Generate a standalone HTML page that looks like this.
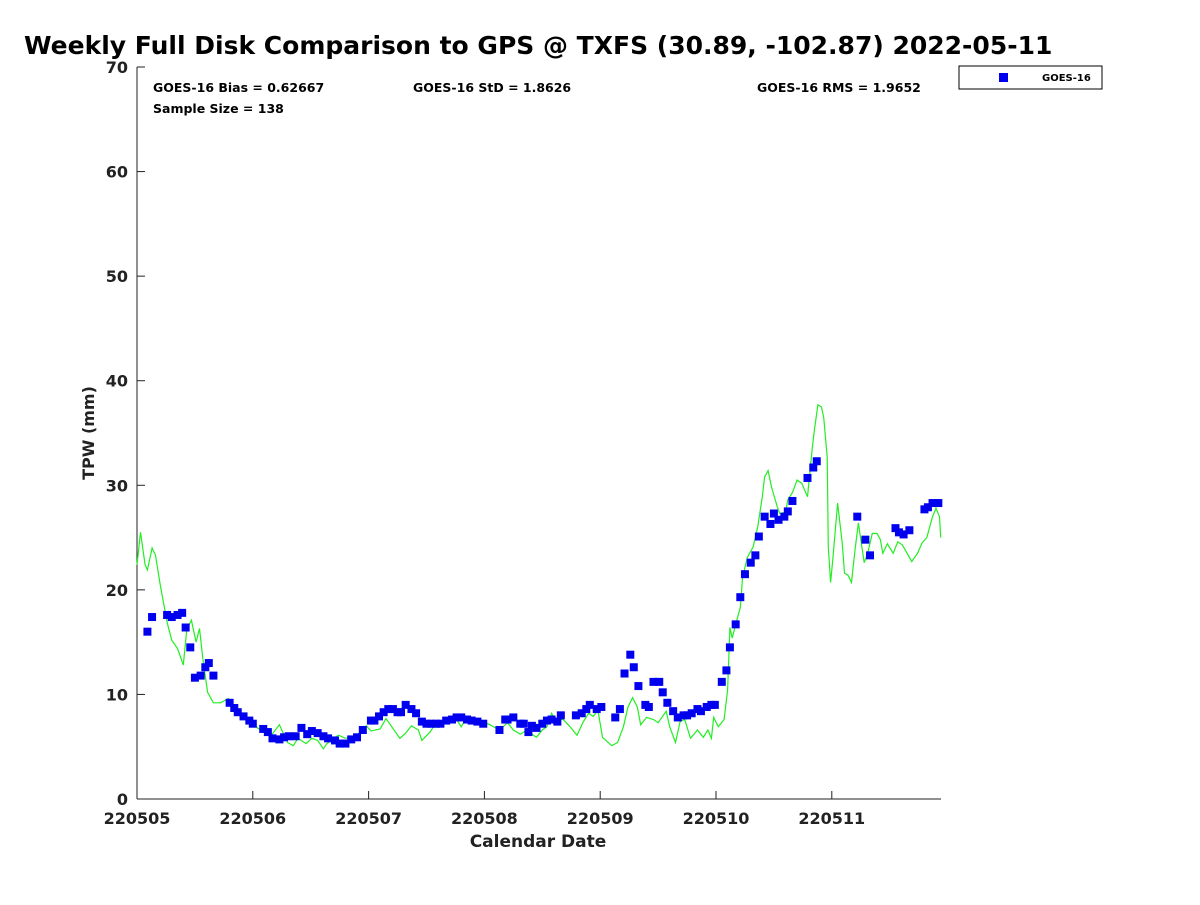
<!DOCTYPE html>
<html><head><meta charset="utf-8"><style>
body{margin:0;background:#fff;font-family:"Liberation Sans","DejaVu Sans",sans-serif;}
svg text{font-family:"DejaVu Sans","Liberation Sans",sans-serif;font-weight:bold;}
</style></head><body>
<svg id="chart" width="1200" height="900" viewBox="0 0 1200 900">
<text x="24" y="54" font-size="25" fill="#000">Weekly Full Disk Comparison to GPS @ TXFS (30.89, -102.87) 2022-05-11</text>
<g id="axes"></g>
<g id="series"></g>
<text x="153" y="92" font-size="12.5">GOES-16 Bias = 0.62667</text>
<text x="153" y="113" font-size="12.5">Sample Size = 138</text>
<text x="413" y="92" font-size="12.5">GOES-16 StD = 1.8626</text>
<text x="757" y="92" font-size="12.5">GOES-16 RMS = 1.9652</text>
<g>
<rect x="959" y="66" width="143" height="23" fill="#fff" stroke="#000" stroke-width="1"/>
<rect x="999" y="73" width="9" height="9" fill="#0000ee"/>
<text x="1042" y="81" font-size="10">GOES-16</text>
</g>
<text x="538" y="847" font-size="17" text-anchor="middle" fill="#222">Calendar Date</text>
<text transform="translate(94,433) rotate(-90)" font-size="16" text-anchor="middle" fill="#222">TPW (mm)</text>
</svg>
<script>
const xTickLabels=["220505","220506","220507","220508","220509","220510","220511"];
const yTicks=[0,10,20,30,40,50,60,70];
const goesDays=[0.09,0.13,0.26,0.30,0.35,0.39,0.42,0.46,0.50,0.55,0.59,0.62,0.66,0.80,0.84,0.87,0.92,0.97,1.00,1.09,1.13,1.17,1.23,1.27,1.31,1.37,1.42,1.47,1.51,1.56,1.61,1.65,1.71,1.75,1.80,1.85,1.90,1.95,2.02,2.05,2.09,2.13,2.17,2.21,2.25,2.28,2.32,2.37,2.41,2.46,2.50,2.54,2.58,2.62,2.67,2.72,2.76,2.80,2.85,2.89,2.94,2.99,3.13,3.18,3.20,3.25,3.31,3.34,3.38,3.41,3.45,3.50,3.54,3.58,3.63,3.66,3.79,3.84,3.88,3.91,3.97,4.01,4.13,4.17,4.21,4.26,4.29,4.33,4.39,4.42,4.46,4.51,4.54,4.58,4.63,4.67,4.72,4.75,4.79,4.84,4.87,4.92,4.96,4.99,5.05,5.09,5.12,5.17,5.21,5.25,5.30,5.34,5.37,5.42,5.47,5.50,5.54,5.59,5.62,5.66,5.79,5.84,5.87,6.22,6.29,6.33,6.55,6.58,6.62,6.67,6.80,6.83,6.87,6.92];
const goesVals=[16.0,17.4,17.6,17.4,17.6,17.8,16.4,14.5,11.6,11.8,12.6,13.0,11.8,9.2,8.7,8.3,7.9,7.5,7.2,6.7,6.4,5.8,5.7,5.9,6.0,6.0,6.8,6.2,6.5,6.3,6.0,5.8,5.6,5.3,5.3,5.7,5.9,6.6,7.5,7.5,7.9,8.3,8.6,8.6,8.3,8.3,9.0,8.6,8.2,7.4,7.2,7.2,7.2,7.2,7.5,7.6,7.8,7.8,7.6,7.5,7.4,7.2,6.6,7.6,7.6,7.8,7.2,7.2,6.4,7.0,6.8,7.2,7.5,7.6,7.4,8.0,8.0,8.2,8.6,9.0,8.6,8.8,7.8,8.6,12.0,13.8,12.6,10.8,9.0,8.8,11.2,11.2,10.2,9.2,8.4,7.8,8.0,8.0,8.2,8.6,8.4,8.8,9.0,9.0,11.2,12.3,14.5,16.7,19.3,21.5,22.6,23.3,25.1,27.0,26.3,27.3,26.7,27.0,27.5,28.5,30.7,31.7,32.3,27.0,24.8,23.3,25.9,25.5,25.3,25.7,27.7,27.9,28.3,28.3];
const gpsDays=[0,0.03,0.07,0.09,0.13,0.16,0.20,0.26,0.30,0.35,0.40,0.43,0.47,0.51,0.54,0.57,0.61,0.66,0.72,0.79,0.85,0.91,0.98,1.04,1.11,1.16,1.23,1.30,1.35,1.39,1.46,1.51,1.56,1.61,1.64,1.68,1.74,1.80,1.86,1.93,1.98,2.02,2.10,2.15,2.20,2.27,2.32,2.37,2.43,2.46,2.53,2.59,2.65,2.70,2.75,2.80,2.84,2.91,2.98,3.03,3.13,3.20,3.25,3.31,3.37,3.41,3.45,3.50,3.54,3.58,3.61,3.68,3.74,3.80,3.85,3.90,3.94,3.98,4.02,4.10,4.15,4.20,4.24,4.28,4.32,4.35,4.40,4.46,4.50,4.57,4.60,4.65,4.69,4.73,4.78,4.84,4.89,4.93,4.96,4.98,5.02,5.07,5.10,5.12,5.14,5.18,5.21,5.23,5.27,5.32,5.36,5.40,5.42,5.45,5.48,5.53,5.55,5.60,5.62,5.66,5.70,5.74,5.79,5.83,5.85,5.88,5.91,5.93,5.96,5.97,5.99,6.01,6.05,6.09,6.11,6.14,6.17,6.20,6.23,6.28,6.31,6.35,6.39,6.42,6.44,6.48,6.53,6.57,6.61,6.65,6.69,6.74,6.78,6.82,6.87,6.90,6.93,6.94];
const gpsVals=[22.4,25.5,22.4,21.9,24.0,23.3,20.5,16.9,15.2,14.4,12.8,16.2,17.1,15.0,16.3,13.3,10.2,9.2,9.2,9.6,8.5,7.9,7.6,6.8,6.3,6.1,7.1,5.4,5.1,5.8,5.3,5.8,5.6,4.8,5.3,5.6,6.1,5.8,5.9,6.4,7.0,6.5,6.7,7.7,6.9,5.8,6.3,7.0,6.6,5.6,6.4,7.4,7.2,7.6,7.8,6.9,7.7,7.4,7.0,7.2,6.6,7.3,6.6,6.2,6.6,6.2,5.9,6.6,6.9,8.2,7.6,7.6,6.9,6.1,7.3,8.2,7.9,8.5,5.9,5.1,5.4,6.9,8.8,9.7,8.8,7.1,7.8,7.6,7.3,8.4,6.9,5.4,7.4,7.6,5.8,6.6,5.9,6.6,5.8,7.8,6.9,7.6,10.4,16.4,15.4,17.1,18.3,21.2,23.1,24.1,26.0,28.9,30.8,31.4,29.8,27.9,27.3,27.4,28.6,29.3,30.5,30.2,28.9,33.4,35.3,37.7,37.5,36.5,32.7,24.1,20.7,23.1,28.3,24.5,21.6,21.4,20.7,23.8,26.4,22.6,23.5,25.4,25.4,24.8,23.5,24.4,23.5,24.6,24.3,23.5,22.7,23.5,24.5,25.0,27.0,27.8,27.0,25.0];

const NS="http://www.w3.org/2000/svg";
const X0=137,X1=941,Y0=799,Y1=67,DAYW=115.8;
const xs=d=>X0+d*DAYW;
const ys=v=>Y0-(v/70)*(Y0-Y1);
function mk(tag,attrs,parent){const e=document.createElementNS(NS,tag);for(const k in attrs)e.setAttribute(k,attrs[k]);parent.appendChild(e);return e;}
const axes=document.getElementById('axes'),series=document.getElementById('series');
let l=mk('line',{x1:X0,y1:Y1,x2:X0,y2:Y0,stroke:'#222','stroke-width':1},axes);


l=mk('line',{x1:X0,y1:Y0,x2:X1,y2:Y0,stroke:'#222','stroke-width':1},axes);


yTicks.forEach(v=>{
  const t=mk('line',{x1:X0,y1:ys(v),x2:X0+8,y2:ys(v),stroke:'#222'},axes);
  
  
  const tx=mk('text',{x:X0-9,y:ys(v)+6,'font-size':16,'text-anchor':'end',fill:'#222'},axes);
  tx.textContent=v;
  
  
});
xTickLabels.forEach((s,i)=>{
  const t=mk('line',{x1:xs(i),y1:Y0,x2:xs(i),y2:Y0-8,stroke:'#222'},axes);
  
  
  const tx=mk('text',{x:xs(i),y:Y0+25,'font-size':16,'text-anchor':'middle',fill:'#222'},axes);
  tx.textContent=s;
  
  
});
const pts=gpsDays.map((d,i)=>xs(d).toFixed(1)+','+ys(gpsVals[i]).toFixed(1)).join(' ');
const pl=mk('polyline',{points:pts,fill:'none',stroke:'#22ee22','stroke-width':1.2},series);


goesDays.forEach((d,i)=>{
  const r=mk('rect',{x:xs(d)-4,y:ys(goesVals[i])-4,width:8,height:8,fill:'#0000ee'},series);
  
  
});
</script>
</body></html>
